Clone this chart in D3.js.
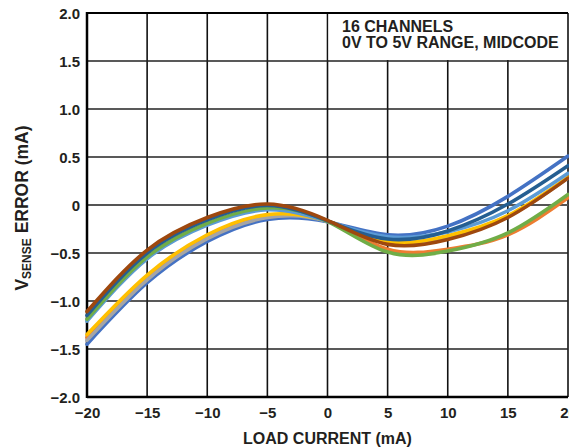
<!DOCTYPE html>
<html>
<head>
<meta charset="utf-8">
<script src="https://cdn.jsdelivr.net/npm/d3@7"></script>
<style>
  html, body { margin: 0; padding: 0; background: #fff; }
  svg { display: block; }
  text { font-family: "Liberation Sans", Arial, sans-serif; font-weight: bold; fill: #231F20; }
</style>
</head>
<body>
<svg id="chart" width="569" height="448"></svg>
<script>
// ---- data ----
const loadCurrent = [-20, -15, -10, -5, 0, 5, 10, 15, 20];
const xTicks = [-20, -15, -10, -5, 0, 5, 10, 15, 20];
const yTicks = [-2.0, -1.5, -1.0, -0.5, 0, 0.5, 1.0, 1.5, 2.0];
const yTickLabels = ["\u22122.0", "\u22121.5", "\u22121.0", "\u22120.5", "0", "0.5", "1.0", "1.5", "2.0"];
const xTickLabels = ["\u221220", "\u221215", "\u221210", "\u22125", "0", "5", "10", "15", "20"];

const chBlue      = [-1.45, -0.81, -0.38, -0.15, -0.175, -0.31, -0.22, 0.09, 0.51];
const chOrange    = [-1.38, -0.755, -0.33, -0.115, -0.17, -0.46, -0.46, -0.31, 0.075];
const chGray      = [-1.41, -0.78, -0.35, -0.13, -0.17, -0.39, -0.33, -0.12, 0.28];
const chYellow    = [-1.35, -0.73, -0.31, -0.10, -0.17, -0.38, -0.32, -0.11, 0.29];
const chLightBlue = [-1.21, -0.56, -0.21, -0.05, -0.17, -0.33, -0.28, -0.06, 0.33];
const chGreen     = [-1.19, -0.54, -0.19, -0.03, -0.17, -0.49, -0.48, -0.29, 0.11];
const chTeal      = [-1.15, -0.50, -0.155, -0.005, -0.165, -0.355, -0.27, 0.01, 0.41];
const chBrown     = [-1.11, -0.47, -0.13, 0.01, -0.16, -0.41, -0.36, -0.13, 0.28];

const seriesValues = [chBlue, chOrange, chGray, chYellow, chLightBlue, chGreen, chTeal, chBrown];
const seriesColors = ["#4472C4", "#ED7D31", "#A5A5A5", "#FFC000", "#5B9BD5", "#70AD47", "#255E91", "#9E480E"];

const legendLines = ["16 CHANNELS", "0V TO 5V RANGE, MIDCODE"];

// ---- layout ----
const pL = 87, pR = 568, pT = 13, pB = 397;
const svg = d3.select("#chart");
const x = d3.scaleLinear().domain([-20, 20]).range([pL, pR]);
const y = d3.scaleLinear().domain([-2, 2]).range([pB, pT]);

// grid
const grid = svg.append("g");
grid.selectAll("line.v").data(xTicks).join("line")
  .attr("x1", d => x(d)).attr("x2", d => x(d))
  .attr("y1", pT).attr("y2", pB)
  .attr("stroke", "#111").attr("stroke-width", 1.6);
grid.selectAll("line.h").data(yTicks).join("line")
  .attr("x1", pL).attr("x2", pR)
  .attr("y1", d => y(d)).attr("y2", d => y(d))
  .attr("stroke", d => d === 0 ? "#555" : "#222")
  .attr("stroke-width", d => d === 0 ? 2.2 : 1.6);

// legend box (covers gridlines)
svg.append("rect")
  .attr("x", x(0) + 1).attr("y", pT + 1)
  .attr("width", pR - x(0) - 2).attr("height", y(1.5) - pT - 2)
  .attr("fill", "#fff");

// frame
svg.append("line").attr("x1", pL).attr("x2", pL).attr("y1", pT - 1).attr("y2", pB + 1)
  .attr("stroke", "#000").attr("stroke-width", 2.5);
svg.append("line").attr("x1", pL).attr("x2", pR).attr("y1", pT).attr("y2", pT)
  .attr("stroke", "#000").attr("stroke-width", 2.2);
svg.append("line").attr("x1", pL).attr("x2", pR).attr("y1", pB).attr("y2", pB)
  .attr("stroke", "#000").attr("stroke-width", 2.5);

// curves
const line = d3.line()
  .x((d, i) => x(loadCurrent[i]))
  .y(d => y(d))
  .curve(d3.curveNatural);
svg.append("g").selectAll("path").data(seriesValues).join("path")
  .attr("d", d => line(d))
  .attr("fill", "none")
  .attr("stroke", (d, i) => seriesColors[i])
  .attr("stroke-width", 3.6)
  .attr("stroke-linecap", "round");

// axes labels via d3 axes
const yAxis = d3.axisLeft(y).tickValues(yTicks).tickSize(0).tickPadding(0)
  .tickFormat((d, i) => yTickLabels[i]);
const gy = svg.append("g").attr("transform", `translate(${pL - 7},0)`).call(yAxis);
gy.select(".domain").remove();
gy.selectAll("text").attr("font-size", 15).attr("font-family", "Liberation Sans, Arial, sans-serif")
  .attr("font-weight", "bold").attr("fill", "#231F20").attr("dy", "0.36em");

const xAxis = d3.axisBottom(x).tickValues(xTicks).tickSize(0).tickPadding(0)
  .tickFormat((d, i) => xTickLabels[i]);
const gx = svg.append("g").attr("transform", `translate(0,${pB + 10})`).call(xAxis);
gx.select(".domain").remove();
gx.selectAll("text").attr("font-size", 15).attr("font-family", "Liberation Sans, Arial, sans-serif")
  .attr("font-weight", "bold").attr("fill", "#231F20").attr("dy", "0.75em");

// axis titles
svg.append("text").attr("x", (pL + pR) / 2).attr("y", 444)
  .attr("text-anchor", "middle").attr("font-size", 16)
  .text("LOAD CURRENT (mA)");

const yt = svg.append("text")
  .attr("transform", `translate(28,208) rotate(-90)`)
  .attr("text-anchor", "middle").attr("font-size", 17.5);
yt.append("tspan").text("V");
yt.append("tspan").attr("font-size", 12).attr("dy", 3).text("SENSE");
yt.append("tspan").attr("dy", -3).text(" ERROR (mA)");

// legend text
svg.append("g").selectAll("text").data(legendLines).join("text")
  .attr("x", 342).attr("y", (d, i) => 32 + i * 16)
  .attr("font-size", 16)
  .text(d => d);
</script>
</body>
</html>
